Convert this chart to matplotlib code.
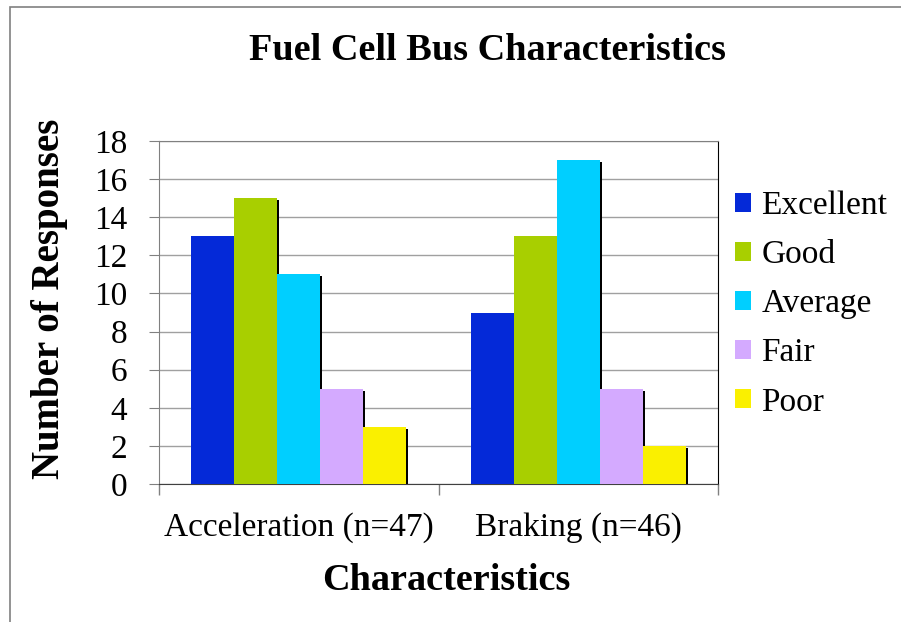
import numpy as np
import matplotlib
matplotlib.use('Agg')
import matplotlib.pyplot as plt
import matplotlib.patheffects as pe
from matplotlib.patches import Patch, Rectangle

plt.rcParams['font.family'] = ['Liberation Serif', 'DejaVu Serif']

categories = ['Acceleration (n=47)', 'Braking (n=46)']
ratings = ['Excellent', 'Good', 'Average', 'Fair', 'Poor']
values = {
    'Excellent': [13, 9],
    'Good': [15, 13],
    'Average': [11, 17],
    'Fair': [5, 5],
    'Poor': [3, 2],
}
colors = ['#0429D8', '#A8CF00', '#00CFFF', '#D4AAFF', '#FAF000']

fig = plt.figure(figsize=(9.01, 6.22), dpi=100)
ax = fig.add_axes([159 / 901, 1 - 484 / 622, 559 / 901, 343 / 622])

x = np.arange(len(categories))
w = 0.154
shadow = [pe.SimplePatchShadow(offset=(1.5, -1.5), shadow_rgbFace='black', alpha=1), pe.Normal()]
for i, name in enumerate(ratings):
    ax.bar(x + (i - 2) * w, values[name], w, color=colors[i], zorder=3,
           path_effects=shadow)

ax.set_xlim(-0.5, 1.5)
ax.set_ylim(0, 18)
ax.set_yticks(range(0, 19, 2))
ax.yaxis.grid(True, color='#A0A0A0', lw=1)
ax.set_axisbelow(True)

ax.set_xticks(x)
ax.set_xticklabels(categories)
ax.set_xticks([-0.5, 0.5, 1.5], minor=True)
ax.tick_params(axis='x', which='major', length=0, pad=20, labelsize=24)
ax.tick_params(axis='x', which='minor', length=8, color='#808080', width=1)
ax.tick_params(axis='y', length=7, pad=16, labelsize=24, color='#808080')

for side in ['left', 'top', 'bottom']:
    ax.spines[side].set_color('#808080')
ax.spines['bottom'].set_color('#404040')
ax.spines['right'].set_color('black')

ax.set_xlabel('Characteristics', fontsize=27.5, fontweight='bold', va='center')
ax.xaxis.set_label_coords((446 - 159) / 559, (484 - 580) / 343)
ax.set_ylabel('Number of Responses', fontsize=28, fontweight='bold', va='center')
ax.yaxis.set_label_coords((50 - 159) / 559, (484 - 299) / 343)

fig.suptitle('Fuel Cell Bus Characteristics', x=487 / 901, y=1 - 50 / 622,
             fontsize=27.5, fontweight='bold', va='center')

handles = [Patch(facecolor=c, edgecolor='none') for c in colors]
fig.legend(handles, ratings, loc='center left', bbox_to_anchor=(718 / 901, 1 - 304 / 622),
           frameon=False, fontsize=24, handlelength=0.5, handleheight=0.5,
           handletextpad=0.3, labelspacing=0.56, borderpad=0)

fig.patches.append(Rectangle((10 / 901, -0.1), 1.2, 1 - 7 / 622 + 0.1, transform=fig.transFigure,
                             fill=False, edgecolor='#808080', lw=1.2))

fig.savefig('out.png', dpi=100)
